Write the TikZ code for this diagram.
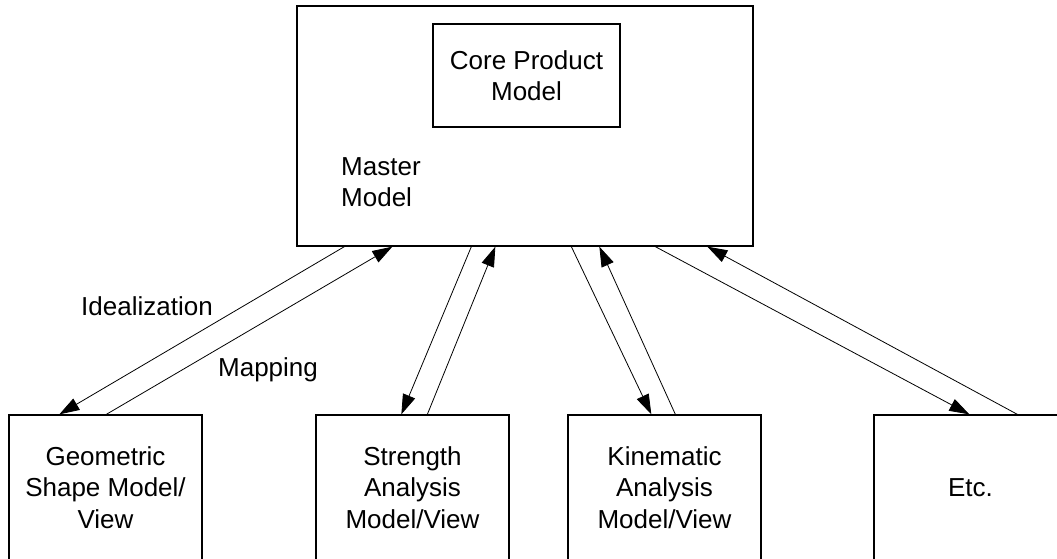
\documentclass[tikz,border=0pt]{standalone}
\usepackage{fontspec}
\setmainfont{Liberation Sans}
\usetikzlibrary{arrows.meta,calc}
\begin{document}
\begin{tikzpicture}[x=1pt,y=-1pt,
  every node/.style={font=\fontsize{26}{31.5}\selectfont},
  box/.style={draw,line width=1.3pt,inner sep=0pt,align=center},
  bottombox/.style={box,minimum width=193pt,minimum height=145pt},
  conn/.style={line width=0.8pt,-{Triangle[length=20pt,width=13pt]}},
  lbl/.style={inner sep=0pt}]
\useasboundingbox (0,0) rectangle (1057,558);
\clip (0,0) rectangle (1057,558);
\fill[white] (0,0) rectangle (1057,558);
% master and core
\node[box,minimum width=456pt,minimum height=240pt] (master) at (525,126) {};
\node[box,minimum width=187pt,minimum height=103pt] (core) at (526.5,75.5) {Core Product\\Model};
\node[lbl,anchor=west,align=left] (mastertxt) at (341,182) {Master\\Model};
% bottom boxes
\node[bottombox] (geo) at (105.5,487.5) {Geometric\\Shape Model/\\View};
\node[bottombox] (str) at (412.5,487.5) {Strength\\Analysis\\Model/View};
\node[bottombox] (kin) at (664.5,487.5) {Kinematic\\Analysis\\Model/View};
\node[bottombox] (etc) at (970.5,487.5) {Etc.};
% anchor points on master bottom
\coordinate (m1) at ($(master.south west)+(48,0)$);
\coordinate (m2) at ($(master.south west)+(96,0)$);
\coordinate (m3) at ($(master.south west)+(175,0)$);
\coordinate (m4) at ($(master.south west)+(199,0)$);
\coordinate (m5) at ($(master.south west)+(275,0)$);
\coordinate (m6) at ($(master.south west)+(303,0)$);
\coordinate (m7) at ($(master.south west)+(359,0)$);
\coordinate (m8) at ($(master.south west)+(411,0)$);
% anchor points on bottom box tops
\coordinate (g1) at ($(geo.north west)+(51,0)$);
\coordinate (g2) at ($(geo.north west)+(98,0)$);
\coordinate (s1) at ($(str.north west)+(86,0)$);
\coordinate (s2) at ($(str.north west)+(112,0)$);
\coordinate (k1) at ($(kin.north west)+(84,0)$);
\coordinate (k2) at ($(kin.north west)+(108,0)$);
\coordinate (e1) at ($(etc.north west)+(96,0)$);
\coordinate (e2) at ($(etc.north west)+(144,0)$);
% connectors
\draw[conn] (m1) -- (g1);
\draw[conn] (g2) -- (m2);
\draw[conn] (m3) -- (s1);
\draw[conn] (s2) -- (m4);
\draw[conn] (m5) -- (k1);
\draw[conn] (k2) -- (m6);
\draw[conn] (m7) -- (e1);
\draw[conn] (e2) -- (m8);
% labels
\node[lbl] (ideal) at (147,306) {Idealization};
\node[lbl] (map) at (268,370) {Mapping};
\end{tikzpicture}
\end{document}
